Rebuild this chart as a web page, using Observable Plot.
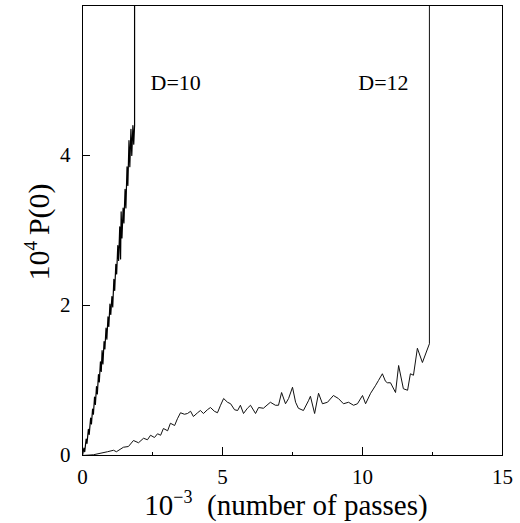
<!DOCTYPE html>
<html>
<head>
<meta charset="utf-8">
<script src="https://cdn.jsdelivr.net/npm/d3@7"></script>
<script src="https://cdn.jsdelivr.net/npm/@observablehq/plot@0.6"></script>
<style>
  html, body { margin: 0; padding: 0; background: #fff; }
  #chart svg { display: block; }
</style>
</head>
<body>
<div id="chart"></div>
<script>
// D=10 series (x in 10^3 passes, y in 10^-4)
const d10X = [0,0.05,0.08,0.13,0.16,0.21,0.24,0.29,0.32,0.36,0.39,0.43,0.46,0.50,0.53,0.57,0.60,0.64,0.67,0.70,0.73,0.77,0.80,0.84,0.87,0.91,0.94,0.98,1.01,1.05,1.08,1.12,1.15,1.19,1.22,1.26,1.29,1.33,1.36,1.38,1.41,1.45,1.48,1.52,1.55,1.59,1.62,1.66,1.69,1.73,1.76,1.80,1.83,1.86,1.86];
const d10Y = [0,0.10,0.05,0.22,0.16,0.35,0.28,0.50,0.42,0.62,0.55,0.78,0.68,0.92,0.82,1.08,0.98,1.25,1.12,1.40,1.22,1.52,1.42,1.70,1.55,1.85,1.72,2.02,1.88,2.12,1.98,2.35,2.20,2.55,2.42,2.80,2.60,3.05,2.62,3.25,2.90,3.30,3.10,3.55,3.30,3.85,3.60,4.20,3.85,4.35,4.00,4.40,4.15,4.40,8];

// D=12 series
const d12X = [0,0.39,0.89,1.11,1.21,1.46,1.64,1.82,2.00,2.18,2.32,2.43,2.57,2.68,2.79,2.89,3.04,3.14,3.29,3.39,3.50,3.64,3.75,3.86,3.96,4.11,4.21,4.32,4.46,4.57,4.71,4.82,4.93,5.04,5.18,5.29,5.43,5.54,5.64,5.75,5.89,6.00,6.18,6.29,6.46,6.71,6.89,7.00,7.11,7.25,7.36,7.50,7.61,7.71,7.89,8.07,8.14,8.29,8.43,8.57,8.75,8.96,9.14,9.32,9.50,9.68,9.82,10.00,10.11,10.29,10.46,10.57,10.71,10.82,10.89,11.00,11.18,11.29,11.46,11.61,11.71,11.82,11.96,12.14,12.39,12.39];
const d12Y = [0,0.01,0.05,0.07,0.05,0.11,0.12,0.20,0.17,0.23,0.21,0.27,0.24,0.29,0.27,0.36,0.33,0.43,0.40,0.49,0.57,0.55,0.56,0.59,0.52,0.57,0.60,0.56,0.61,0.64,0.59,0.57,0.67,0.76,0.71,0.69,0.61,0.60,0.67,0.56,0.63,0.67,0.56,0.64,0.63,0.71,0.67,0.67,0.84,0.69,0.76,0.91,0.71,0.63,0.60,0.73,0.79,0.56,0.83,0.69,0.71,0.80,0.76,0.69,0.71,0.67,0.69,0.80,0.69,0.83,0.93,1.00,1.09,0.99,0.97,0.97,0.84,1.20,0.89,0.87,1.09,1.07,1.43,1.24,1.49,8];

// Axis ticks
const xTickLabels = [0, 5, 10, 15];
const xMajorTicks = [5, 10];
const xMinorTicks = [2.5, 7.5, 12.5];
const yTickLabels = [0, 2, 4];
const yMajorTicks = [2, 4];

// Curve annotations
const curveNames = ["D=10", "D=12"];
const curveNameX = [2.43, 9.85];
const curveNameY = [4.87, 4.87];

const W = 520, H = 523;
const mL = 82, mR = 18, mT = 5, mB = 68;
const xDom = [0, 15], yDom = [0, 6];
const pxX = (xDom[1] - xDom[0]) / (W - mL - mR);
const pxY = (yDom[1] - yDom[0]) / (H - mT - mB);
const FONT = "'Liberation Serif', 'Times New Roman', Times, serif";

const d10 = d10X.map((x, i) => ({x, y: d10Y[i]}));
const d12 = d12X.map((x, i) => ({x, y: d12Y[i]}));
const names = curveNames.map((t, i) => ({t, x: curveNameX[i], y: curveNameY[i]}));

const chart = Plot.plot({
  width: W, height: H,
  marginLeft: mL, marginRight: mR, marginTop: mT, marginBottom: mB,
  style: {fontFamily: FONT, fontSize: "21px", color: "#000", background: "#fff"},
  x: {domain: xDom},
  y: {domain: yDom},
  marks: [
    Plot.line(d10, {x: "x", y: "y", stroke: "#000", strokeWidth: 1.2, clip: true}),
    Plot.line(d12, {x: "x", y: "y", stroke: "#111", strokeWidth: 1, clip: true}),
    Plot.ruleX(xMajorTicks, {x: d => d, y1: 0, y2: 8 * pxY, stroke: "#000"}),
    Plot.ruleX(xMinorTicks, {x: d => d, y1: 0, y2: 3 * pxY, stroke: "#000"}),
    Plot.ruleY(yMajorTicks, {y: d => d, x1: 0, x2: 8 * pxX, stroke: "#000"}),
    Plot.axisX({ticks: xTickLabels, tickFormat: d3.format("d"), tickSize: 0, tickPadding: 14, label: null, fontSize: 21, fontFamily: FONT}),
    Plot.axisY({ticks: yTickLabels, tickFormat: d3.format("d"), tickSize: 0, tickPadding: 12, label: null, fontSize: 21, fontFamily: FONT}),
    Plot.text(names, {x: "x", y: "y", text: "t", textAnchor: "start", lineAnchor: "bottom", fontSize: 22, fontFamily: FONT, fill: "#000"}),
    Plot.frame({stroke: "#000", strokeWidth: 1})
  ]
});

const svg = d3.select(chart);
const cx = mL + (W - mL - mR) / 2;
// X axis title
const xt = svg.append("text")
  .attr("x", cx - 6).attr("y", 515)
  .attr("text-anchor", "middle")
  .attr("font-family", FONT)
  .attr("font-size", 29).attr("fill", "#000");
xt.append("tspan").text("10");
xt.append("tspan").attr("dy", -12).attr("font-size", 18).text("−3");
xt.append("tspan").attr("dy", 12).text("\u2002(number of passes)");
// Y axis title
const cy = mT + (H - mT - mB) / 2 + 2;
const yt = svg.append("text")
  .attr("transform", `translate(49,${cy}) rotate(-90)`)
  .attr("text-anchor", "middle")
  .attr("font-family", FONT)
  .attr("font-size", 30).attr("fill", "#000");
yt.append("tspan").text("10");
yt.append("tspan").attr("dy", -12).attr("font-size", 19).text("4");
yt.append("tspan").attr("dy", 12).text("\u2009P(0)");

document.getElementById("chart").appendChild(chart);
</script>
</body>
</html>
